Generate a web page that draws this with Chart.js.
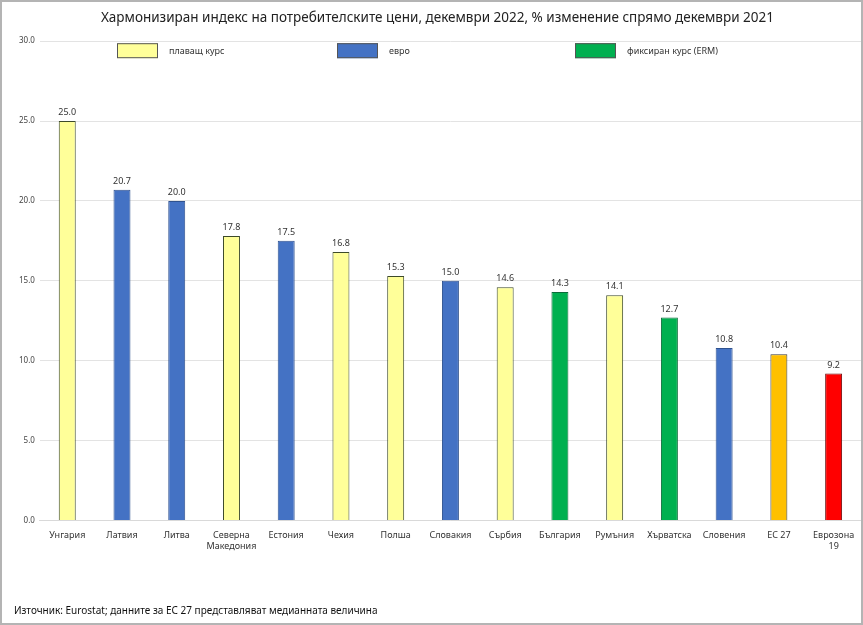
<!DOCTYPE html>
<html>
<head>
<meta charset="utf-8">
<script src="https://cdn.jsdelivr.net/npm/chart.js@4.4.1/dist/chart.umd.min.js"></script>
<style>
    html, body { margin: 0; padding: 0; background: #fff; }
    #frame { width: 863px; height: 625px; box-sizing: border-box; border: 2px solid #b4b4b4; }
    #chart { display: block; }
</style>
</head>
<body>
<div id="frame"><canvas id="chart" width="859" height="621"></canvas></div>
<script>
const countries = ['Унгария', 'Латвия', 'Литва', ['Северна', 'Македония'], 'Естония', 'Чехия', 'Полша',
    'Словакия', 'Сърбия', 'България', 'Румъния', 'Хърватска', 'Словения', 'ЕС 27', ['Еврозона', '19']];
const inflation = [25.0, 20.7, 20.0, 17.8, 17.5, 16.8, 15.3, 15.0, 14.6, 14.3, 14.1, 12.7, 10.8, 10.4, 9.2];
// regime: f = плаващ курс, e = евро, x = фиксиран курс (ERM), eu = ЕС 27, ea = еврозона
const regime = ['f', 'e', 'e', 'f', 'e', 'f', 'f', 'e', 'f', 'x', 'f', 'x', 'e', 'eu', 'ea'];
const legendItems = [
    { key: 'f', text: 'плаващ курс' },
    { key: 'e', text: 'евро' },
    { key: 'x', text: 'фиксиран курс (ERM)' }
];
const yTicks = [0, 5, 10, 15, 20, 25, 30];

const fills = { f: '#FFFF99', e: '#4472C4', x: '#00B050', eu: '#FFC000', ea: '#FF0000' };
const edges = { f: '#3d4a2a', e: '#2F528F', x: '#0b6b3a', eu: '#3a3a3a', ea: '#6b0a0a' };
const FONT = '"Noto Sans", "DejaVu Sans", sans-serif';

// value labels over the bars
const barLabels = {
    id: 'barLabels',
    afterDatasetsDraw(chart) {
        const ctx = chart.ctx;
        const meta = chart.getDatasetMeta(0);
        ctx.save();
        ctx.font = '9px ' + FONT;
        ctx.fillStyle = '#333';
        ctx.textAlign = 'center';
        ctx.textBaseline = 'bottom';
        meta.data.forEach((bar, i) => {
            ctx.fillText(inflation[i].toFixed(1), bar.x, bar.y - 4);
        });
        ctx.restore();
    }
};

// legend sits inside the plot, just under the top gridline
const innerLegend = {
    id: 'innerLegend',
    afterDraw(chart) {
        const ctx = chart.ctx;
        const area = chart.chartArea;
        const xs = [115, 335, 573];
        const y = area.top + 2;
        ctx.save();
        ctx.font = '9px ' + FONT;
        ctx.textBaseline = 'middle';
        legendItems.forEach((item, i) => {
            ctx.fillStyle = fills[item.key];
            ctx.fillRect(xs[i], y, 41, 15);
            ctx.strokeStyle = '#555';
            ctx.lineWidth = 1;
            ctx.strokeRect(xs[i] + 0.5, y + 0.5, 40, 14);
            ctx.fillStyle = '#333';
            ctx.fillText(item.text, xs[i] + 52, y + 8);
        });
        ctx.restore();
    }
};

new Chart(document.getElementById('chart'), {
    type: 'bar',
    data: {
        labels: countries,
        datasets: [{
            data: inflation,
            backgroundColor: regime.map(r => fills[r]),
            borderColor: regime.map(r => edges[r]),
            borderWidth: 1,
            barPercentage: 0.31,
            categoryPercentage: 1
        }]
    },
    options: {
        responsive: false,
        animation: false,
        layout: { padding: { left: 12, right: 0, top: 0, bottom: 4 } },
        plugins: {
            legend: { display: false },
            tooltip: { enabled: false },
            title: {
                display: true,
                text: 'Хармонизиран индекс на потребителските цени, декември 2022, % изменение спрямо декември 2021',
                color: '#222',
                font: { family: FONT, size: 13.5, weight: 'normal' },
                padding: { top: 8, bottom: 15 }
            },
            subtitle: {
                display: true,
                position: 'bottom',
                align: 'start',
                text: 'Източник: Eurostat; данните за ЕС 27 представляват медианната величина',
                color: '#111',
                font: { family: FONT, size: 10 },
                padding: { top: 51, bottom: 2 }
            }
        },
        scales: {
            x: {
                grid: { display: false },
                border: { color: '#d9d9d9' },
                ticks: { color: '#333', font: { family: FONT, size: 9 }, maxRotation: 0, autoSkip: false, padding: 2 }
            },
            y: {
                min: 0,
                max: 30,
                afterBuildTicks(scale) { scale.ticks = yTicks.map(v => ({ value: v })); },
                grid: { color: '#e3e3e3', drawTicks: false },
                border: { display: false },
                ticks: {
                    color: '#444',
                    font: { family: FONT, size: 8 },
                    padding: 5,
                    callback: v => v.toFixed(1)
                }
            }
        }
    },
    plugins: [barLabels, innerLegend]
});
</script>
</body>
</html>
